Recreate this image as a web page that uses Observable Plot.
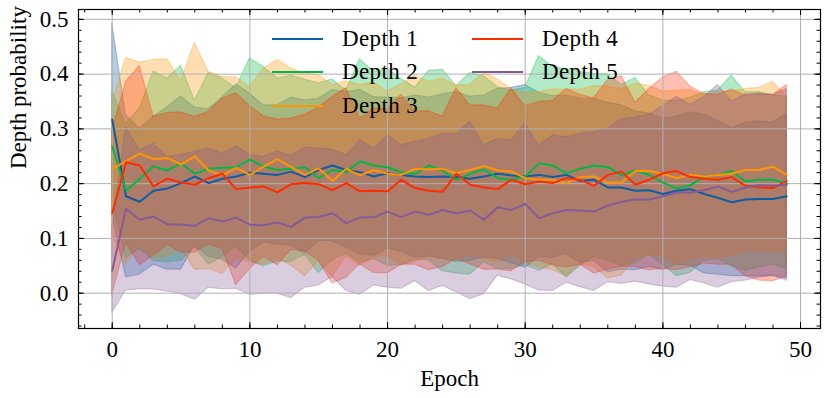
<!DOCTYPE html>
<html><head><meta charset="utf-8">
<script src="https://cdn.jsdelivr.net/npm/d3@7"></script>
<script src="https://cdn.jsdelivr.net/npm/@observablehq/plot@0.6"></script>
<style>
body{margin:0;background:#fff;}
#wrap{position:relative;width:830px;height:398px;font-family:"Liberation Serif","Times New Roman",serif;}
.li{position:absolute;height:0;border-top:2px solid;width:51px;}
.lt{position:absolute;font-size:23px;line-height:23px;letter-spacing:0.4px;color:#000;white-space:nowrap;}
</style></head><body><div id="wrap"></div>
<script>
const epochs = d3.range(50);
const seriesNames = ["Depth 1","Depth 2","Depth 3","Depth 4","Depth 5"];
const colors = ["#0C5DA5","#00B945","#FF9500","#FF2C00","#845B97"];

const mean1 = [0.317,0.177,0.167,0.187,0.191,0.201,0.213,0.201,0.209,0.213,0.220,0.218,0.216,0.222,0.212,0.225,0.233,0.225,0.221,0.213,0.219,0.216,0.213,0.212,0.213,0.212,0.209,0.213,0.218,0.215,0.213,0.216,0.212,0.216,0.205,0.207,0.193,0.193,0.187,0.188,0.181,0.187,0.190,0.181,0.174,0.166,0.171,0.172,0.172,0.177];
const mean2 = [0.268,0.187,0.209,0.232,0.224,0.237,0.218,0.227,0.229,0.230,0.244,0.231,0.225,0.227,0.230,0.210,0.225,0.221,0.241,0.233,0.230,0.221,0.218,0.233,0.224,0.207,0.218,0.226,0.210,0.207,0.213,0.237,0.233,0.219,0.227,0.233,0.230,0.215,0.224,0.216,0.202,0.191,0.197,0.213,0.216,0.223,0.204,0.207,0.207,0.201];
const mean3 = [0.227,0.241,0.255,0.245,0.247,0.235,0.250,0.224,0.215,0.229,0.216,0.231,0.245,0.230,0.216,0.228,0.205,0.227,0.215,0.225,0.218,0.216,0.227,0.226,0.227,0.219,0.225,0.232,0.224,0.222,0.210,0.207,0.207,0.201,0.212,0.213,0.202,0.202,0.223,0.223,0.218,0.210,0.216,0.213,0.216,0.218,0.225,0.225,0.231,0.216];
const mean4 = [0.146,0.239,0.233,0.195,0.209,0.202,0.198,0.210,0.218,0.190,0.193,0.195,0.184,0.199,0.201,0.199,0.188,0.201,0.186,0.187,0.186,0.207,0.192,0.187,0.185,0.218,0.198,0.193,0.190,0.207,0.199,0.204,0.201,0.210,0.207,0.196,0.216,0.222,0.198,0.207,0.219,0.223,0.212,0.209,0.207,0.212,0.196,0.193,0.192,0.205];
const mean5 = [0.041,0.154,0.134,0.140,0.126,0.125,0.123,0.137,0.131,0.138,0.125,0.124,0.129,0.121,0.138,0.139,0.146,0.128,0.138,0.139,0.149,0.139,0.149,0.143,0.152,0.146,0.151,0.134,0.157,0.152,0.163,0.137,0.146,0.152,0.151,0.149,0.160,0.167,0.171,0.171,0.177,0.184,0.184,0.188,0.195,0.185,0.193,0.197,0.196,0.198];

const std1 = [0.176,0.148,0.133,0.135,0.148,0.158,0.126,0.135,0.148,0.168,0.144,0.125,0.127,0.135,0.140,0.130,0.138,0.142,0.150,0.145,0.138,0.140,0.148,0.145,0.150,0.155,0.150,0.148,0.155,0.160,0.167,0.150,0.148,0.145,0.150,0.148,0.155,0.150,0.145,0.140,0.138,0.135,0.140,0.145,0.140,0.135,0.140,0.142,0.140,0.150];
const std2 = [0.100,0.123,0.128,0.173,0.168,0.178,0.134,0.175,0.163,0.144,0.185,0.182,0.167,0.170,0.160,0.173,0.165,0.149,0.186,0.171,0.180,0.170,0.157,0.173,0.184,0.171,0.184,0.170,0.166,0.163,0.162,0.196,0.180,0.190,0.177,0.167,0.170,0.165,0.169,0.145,0.150,0.160,0.160,0.154,0.154,0.174,0.163,0.160,0.155,0.157];
const std3 = [0.120,0.189,0.166,0.181,0.180,0.153,0.207,0.180,0.180,0.165,0.160,0.179,0.181,0.180,0.185,0.170,0.175,0.160,0.165,0.160,0.150,0.165,0.170,0.160,0.165,0.160,0.155,0.170,0.166,0.150,0.155,0.160,0.165,0.170,0.160,0.165,0.175,0.170,0.160,0.155,0.150,0.160,0.155,0.148,0.152,0.150,0.148,0.150,0.155,0.143];
const std4 = [0.150,0.147,0.182,0.127,0.120,0.128,0.124,0.121,0.137,0.175,0.149,0.128,0.133,0.120,0.125,0.140,0.170,0.173,0.133,0.150,0.150,0.155,0.140,0.145,0.137,0.156,0.145,0.150,0.147,0.167,0.142,0.145,0.150,0.163,0.155,0.160,0.173,0.174,0.150,0.165,0.175,0.181,0.165,0.155,0.155,0.160,0.165,0.170,0.170,0.175];
const std5 = [0.077,0.149,0.127,0.133,0.123,0.127,0.135,0.127,0.124,0.130,0.128,0.125,0.130,0.130,0.128,0.125,0.116,0.124,0.141,0.125,0.139,0.131,0.127,0.139,0.139,0.144,0.162,0.136,0.125,0.127,0.147,0.132,0.142,0.133,0.140,0.145,0.140,0.150,0.150,0.155,0.165,0.174,0.160,0.170,0.185,0.165,0.170,0.168,0.165,0.175];

const xTicks = [0,10,20,30,40,50];
const yTicks = [0,0.1,0.2,0.3,0.4,0.5];
const xMinor = d3.range(-2, 52, 2);
const yMinor = d3.range(-6, 51, 2).map(d => d / 100);

const means = [mean1, mean2, mean3, mean4, mean5];
const stds = [std1, std2, std3, std4, std5];
const tables = means.map((m, i) => epochs.map((e, j) => ({epoch: e, mean: m[j], lo: m[j] - stds[i][j], hi: m[j] + stds[i][j]})));

const W = 830, H = 398, mL = 78, mR = 10, mT = 9, mB = 70;
const fw = W - mL - mR, fh = H - mT - mB;
const font = "Liberation Serif, Times New Roman, serif";

const marks = [];
tables.forEach((t, i) => marks.push(Plot.areaY(t, {x: "epoch", y1: "lo", y2: "hi", fill: colors[i], fillOpacity: 0.3, stroke: colors[i], strokeOpacity: 0.3, strokeWidth: 1.2})));
marks.push(Plot.gridX(xTicks, {stroke: "#b0b0b0", strokeOpacity: 1, strokeWidth: 1}));
marks.push(Plot.gridY(yTicks, {stroke: "#b0b0b0", strokeOpacity: 1, strokeWidth: 1}));
tables.forEach((t, i) => marks.push(Plot.line(t, {x: "epoch", y: "mean", stroke: colors[i], strokeWidth: 2})));
// ticks, inward, all four sides
marks.push(Plot.ruleX(xTicks, {x: d => d, insetTop: fh - 6, stroke: "black"}));
marks.push(Plot.ruleX(xTicks, {x: d => d, insetBottom: fh - 6, stroke: "black"}));
marks.push(Plot.ruleX(xMinor, {x: d => d, insetTop: fh - 3.5, stroke: "black"}));
marks.push(Plot.ruleX(xMinor, {x: d => d, insetBottom: fh - 3.5, stroke: "black"}));
marks.push(Plot.ruleY(yTicks, {y: d => d, insetRight: fw - 6, stroke: "black"}));
marks.push(Plot.ruleY(yTicks, {y: d => d, insetLeft: fw - 6, stroke: "black"}));
marks.push(Plot.ruleY(yMinor, {y: d => d, insetRight: fw - 3.5, stroke: "black"}));
marks.push(Plot.ruleY(yMinor, {y: d => d, insetLeft: fw - 3.5, stroke: "black"}));
marks.push(Plot.frame({stroke: "black", strokeWidth: 1.2}));
marks.push(Plot.text(xTicks, {x: d => d, frameAnchor: "bottom", dy: 21, text: d => String(d), fontSize: 23, fontFamily: font, lineAnchor: "middle"}));
marks.push(Plot.text(yTicks, {y: d => d, frameAnchor: "left", dx: -10, textAnchor: "end", text: d => d.toFixed(1), fontSize: 23, fontFamily: font}));
marks.push(Plot.text(["Epoch"], {frameAnchor: "bottom", dy: 50, fontSize: 23, fontFamily: font, lineAnchor: "middle"}));
marks.push(Plot.text(["Depth probability"], {frameAnchor: "left", dx: -60, rotate: -90, fontSize: 23, fontFamily: font}));

const plot = Plot.plot({
  width: W, height: H,
  marginLeft: mL, marginRight: mR, marginTop: mT, marginBottom: mB,
  x: {domain: [-2.45, 51.45], axis: null},
  y: {domain: [-0.0645, 0.518], axis: null},
  style: {background: "#fff", fontFamily: font, overflow: "visible"},
  marks
});
const wrap = document.getElementById("wrap");
wrap.appendChild(plot);

// legend (two columns, no frame)
const legendPos = [[272, 39], [272, 72.3], [272, 105.6], [472, 39], [472, 72.3]];
seriesNames.forEach((name, i) => {
  const [lx, ly] = legendPos[i];
  const l = document.createElement("div");
  l.className = "li";
  l.style.left = lx + "px"; l.style.top = (ly - 1) + "px"; l.style.borderColor = colors[i];
  wrap.appendChild(l);
  const t = document.createElement("div");
  t.className = "lt";
  t.textContent = name;
  t.style.left = (lx + 70) + "px"; t.style.top = (ly - 12) + "px";
  wrap.appendChild(t);
});
</script></body></html>
